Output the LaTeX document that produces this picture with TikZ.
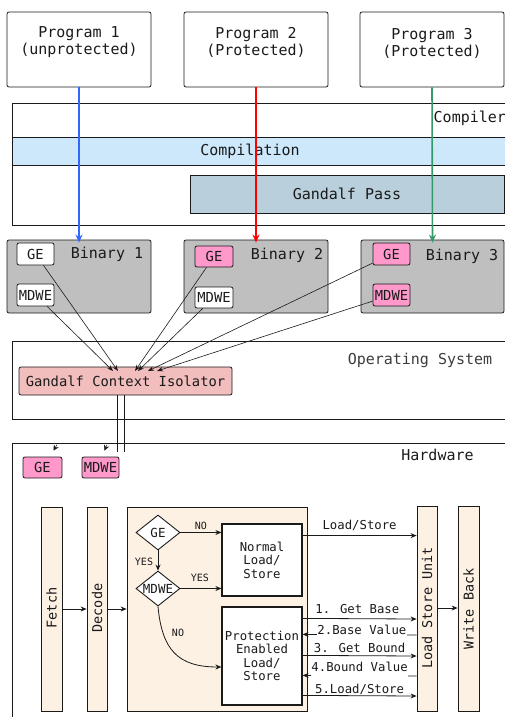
\documentclass[tikz,border=0pt]{standalone}
\usepackage{fontspec}
\setmainfont{DejaVu Sans Mono}
\usetikzlibrary{arrows.meta,shapes.geometric,calc}

\definecolor{progblue}{HTML}{3366FF}
\definecolor{progred}{HTML}{FF0000}
\definecolor{proggreen}{HTML}{339966}
\definecolor{compfill}{HTML}{CCE8FA}
\definecolor{passfill}{HTML}{B9D0DC}
\definecolor{binfill}{HTML}{BFBFBF}
\definecolor{flagfill}{HTML}{FF99CC}
\definecolor{isofill}{HTML}{F2BDBD}
\definecolor{stagefill}{HTML}{FCF1E3}
\definecolor{ink}{HTML}{1A1A1A}

\newcommand\fsz[1]{\fontsize{#1pt}{#1pt}\selectfont}

\tikzset{
  every node/.style={text=ink},
  frame/.style={draw=ink, line width=0.8pt, inner sep=0pt},
  rbox/.style={frame, rounded corners=2pt},
  flag/.style={rbox, font=\fsz{13.8}},
  stage/.style={frame, fill=stagefill},
  txt/.style={inner sep=0pt},
  big/.style={txt, font=\fsz{15}},
  mid/.style={txt, font=\fsz{12.3}},
  tiny/.style={txt, font=\fsz{10}},
  colarrow/.style={line width=1.6pt, -{Stealth[length=8pt,width=7pt]}},
  thin arrow/.style={draw=ink, line width=0.6pt, -{Stealth[length=6pt,width=4.5pt]}},
  flow/.style={draw=ink, line width=0.8pt, -{Stealth[length=6pt,width=5pt]}},
  decision/.style={diamond, draw=ink, line width=0.9pt, fill=white, inner sep=0pt,
    minimum width=44pt, minimum height=35pt},
  unit/.style={draw=ink, line width=1.2pt, fill=white, inner sep=0pt},
}

\begin{document}
\begin{tikzpicture}[x=1pt, y=-1pt]
\useasboundingbox (0,0) rectangle (505,717);
\clip (0,0) rectangle (505,717);

% ---------- source programs ----------
\node[rbox, minimum width=144pt, minimum height=75pt] (p1) at (79,49.5) {};
\node[rbox, minimum width=144pt, minimum height=75pt] (p2) at (256,49.5) {};
\node[rbox, minimum width=144pt, minimum height=75pt] (p3) at (432,49.5) {};
\node[big, align=center] (p1t) at (79,42.5) {Program 1\\[2pt](unprotected)};
\node[big, align=center] (p2t) at (256,42.5) {Program 2\\[2pt](Protected)};
\node[big, align=center] (p3t) at (432,43) {Program 3\\[2pt](Protected)};

% ---------- compiler ----------
\node[frame, minimum width=518pt, minimum height=122pt] (compiler) at (271,164) {};
\node[frame, fill=compfill, minimum width=518pt, minimum height=28pt] (compband) at (271,151) {};
\node[big] (compt) at (250,151) {Compilation};
\node[frame, fill=passfill, minimum width=314pt, minimum height=38pt] (gpass) at (347,194) {};
\node[big] (gpasst) at (347,194) {Gandalf Pass};
\node[big, anchor=west] (complabel) at (433.5,118) {Compiler};

% ---------- binaries ----------
\node[rbox, fill=binfill, minimum width=144pt, minimum height=73pt] (b1) at (79,276.5) {};
\node[rbox, fill=binfill, minimum width=144pt, minimum height=73pt] (b2) at (256,276.5) {};
\node[rbox, fill=binfill, minimum width=143pt, minimum height=73pt] (b3) at (432.5,276.5) {};
\node[big] (b1t) at (107,254) {Binary 1};
\node[big] (b2t) at (287,255) {Binary 2};
\node[big] (b3t) at (462,256) {Binary 3};

\node[flag, fill=white, minimum width=37pt, minimum height=22pt] (b1ge) at (35.5,254) {GE};
\node[flag, fill=white, minimum width=37pt, minimum height=22pt] (b1md) at (35.5,295) {MDWE};
\node[flag, fill=flagfill, minimum width=38pt, minimum height=21pt] (b2ge) at (214,256.5) {GE};
\node[flag, fill=white, minimum width=38pt, minimum height=21pt] (b2md) at (214,297.5) {MDWE};
\node[flag, fill=flagfill, minimum width=37pt, minimum height=22pt] (b3ge) at (391.5,254) {GE};
\node[flag, fill=flagfill, minimum width=37pt, minimum height=22pt] (b3md) at (391.5,295) {MDWE};

% program -> binary through the compiler
\draw[colarrow, progblue]  (p1.south) -- ($(b1.north)+(0,3)$);
\draw[colarrow, progred]   (p2.south) -- ($(b2.north)+(0,3)$);
\draw[colarrow, proggreen] (p3.south) -- ($(b3.north)+(0,3)$);

% ---------- operating system ----------
\node[frame, minimum width=518pt, minimum height=78pt] (os) at (271,380) {};
\node[big, text=ink!85] (ost) at (420,360) {Operating System};
\node[rbox, fill=isofill, minimum width=213pt, minimum height=28pt, font=\fsz{13.8}] (iso) at (125.5,381) {Gandalf Context Isolator};

\coordinate (t1) at (113,371);
\coordinate (t2) at (118,371);
\coordinate (t3) at (135,371);
\coordinate (t4) at (138,371);
\coordinate (t5) at (148,371);
\coordinate (t6) at (157,371);
\draw[thin arrow] (b1md) -- (t1);
\draw[thin arrow] (b1ge) -- (t2);
\draw[thin arrow] (b2ge) -- (t3);
\draw[thin arrow] (b2md) -- (t4);
\draw[thin arrow] (b3ge) -- (t5);
\draw[thin arrow] (b3md) -- (t6);

% ---------- hardware ----------
\node[frame, minimum width=518pt, minimum height=297pt] (hw) at (271,591.5) {};
\node[big] (hwt) at (437.5,455) {Hardware};
\node[flag, fill=flagfill, minimum width=39pt, minimum height=21pt] (hwge) at (42.5,467.5) {GE};
\node[flag, fill=flagfill, minimum width=37pt, minimum height=21pt] (hwmd) at (100.5,467.5) {MDWE};

% isolator hands the flags down to the hardware
\coordinate (down1) at (117,452);
\coordinate (down2) at (124,452);
\draw[draw=ink, line width=0.6pt] (iso.south -| down1) -- (down1);
\draw[draw=ink, line width=0.6pt] (iso.south -| down2) -- (down2);
\coordinate (geIn) at ($(hwge.north)+(14.5,-12)$);
\coordinate (mdIn) at ($(hwmd.north)+(6.5,-12)$);
\draw[draw=ink, line width=0.5pt, -{Stealth[length=5.5pt,width=5.5pt]}] (geIn) -- ++(-3.5,6);
\draw[draw=ink, line width=0.5pt, -{Stealth[length=5.5pt,width=5.5pt]}] (mdIn) -- ++(-2.5,6);

% pipeline stages
\node[stage, minimum width=21pt, minimum height=204pt] (fetch) at (51.5,609) {};
\node[stage, minimum width=20pt, minimum height=204pt] (decode) at (97,609) {};
\node[stage, minimum width=180pt, minimum height=204pt] (block) at (217,609) {};
\node[stage, minimum width=20pt, minimum height=205pt] (lsu) at (427,608.5) {};
\node[stage, minimum width=21pt, minimum height=205pt] (wb) at (468.5,608.5) {};
\node[txt, rotate=90, font=\fsz{13.5}] (fetcht) at (51.5,608) {Fetch};
\node[txt, rotate=90, font=\fsz{13.5}] (decodet) at (97,608) {Decode};
\node[txt, rotate=90, font=\fsz{13.5}] (lsut) at (427,608) {Load Store Unit};
\node[txt, rotate=90, font=\fsz{13.5}] (wbt) at (468.5,609) {Write Back};

\draw[flow] (fetch.east |- 0,609) -- (decode.west |- 0,609);
\draw[flow] (decode.east |- 0,609) -- (block.west |- 0,609);
\draw[flow] (lsu.east |- 0,608) -- (wb.west |- 0,608);

% decision logic inside the memory stage
\node[decision, label={[font=\fsz{12.5}]center:GE}] (dge) at (158,532.5) {};
\node[decision, label={[font=\fsz{12.5}]center:MDWE}] (dmd) at (158,588.5) {};
\node[unit, minimum width=80pt, minimum height=72pt, align=center, font=\fsz{12.3}] (normal) at (262,560) {Normal\\[1.5pt]Load/\\[1pt]Store};
\node[unit, minimum width=80pt, minimum height=98pt, align=center, font=\fsz{12.3}] (prot) at (262,656) {Protection\\[1pt]Enabled\\[1pt]Load/\\[1pt]Store};

\draw[flow] (dge.east) -- (normal.west |- dge.east) node[tiny, midway, yshift=7pt] {NO};
\draw[flow] (dge.south) -- (dmd.north) node[tiny, midway, xshift=-14pt, yshift=-1pt] {YES};
\draw[flow] (dmd.east) -- (normal.west |- dmd.east) node[tiny, midway, xshift=-1pt, yshift=11pt] {YES};
\draw[flow] (dmd.south) .. controls (162,650) and (178,667) .. (prot.west |- 0,667);
\node[tiny] (nolab) at (178,633) {NO};

% traffic to and from the load store unit
\draw[flow] ($(normal.north east)+(0,12)$) -- ($(lsu.north west)+(0,30)$)
  node[mid, midway, yshift=10pt] {Load/Store};
\draw[flow] ($(prot.north east)+(0,12)$) -- (lsu.west |- 0,619)
  node[mid, pos=0.48, yshift=10pt] {1. Get Base};
\draw[flow] (lsu.west |- 0,635) -- ($(prot.north east)+(0,28)$)
  node[mid, pos=0.48, anchor=base, yshift=0.5pt, fill=white, inner xsep=0.5pt, inner ysep=1pt, text depth=3pt] {2.Base Value};
\draw[flow] ($(prot.north east)+(0,49)$) -- (lsu.west |- 0,656)
  node[mid, midway, yshift=8pt] {3. Get Bound};
\draw[flow] (lsu.west |- 0,676) -- ($(prot.north east)+(0,69)$)
  node[mid, pos=0.5, anchor=base, yshift=4.5pt, fill=white, inner xsep=0.5pt, inner ysep=1pt, text depth=7pt] {4.Bound Value};
\draw[flow] ($(prot.north east)+(0,89)$) -- (lsu.west |- 0,696)
  node[mid, midway, yshift=6pt] {5.Load/Store};
\end{tikzpicture}
\end{document}
